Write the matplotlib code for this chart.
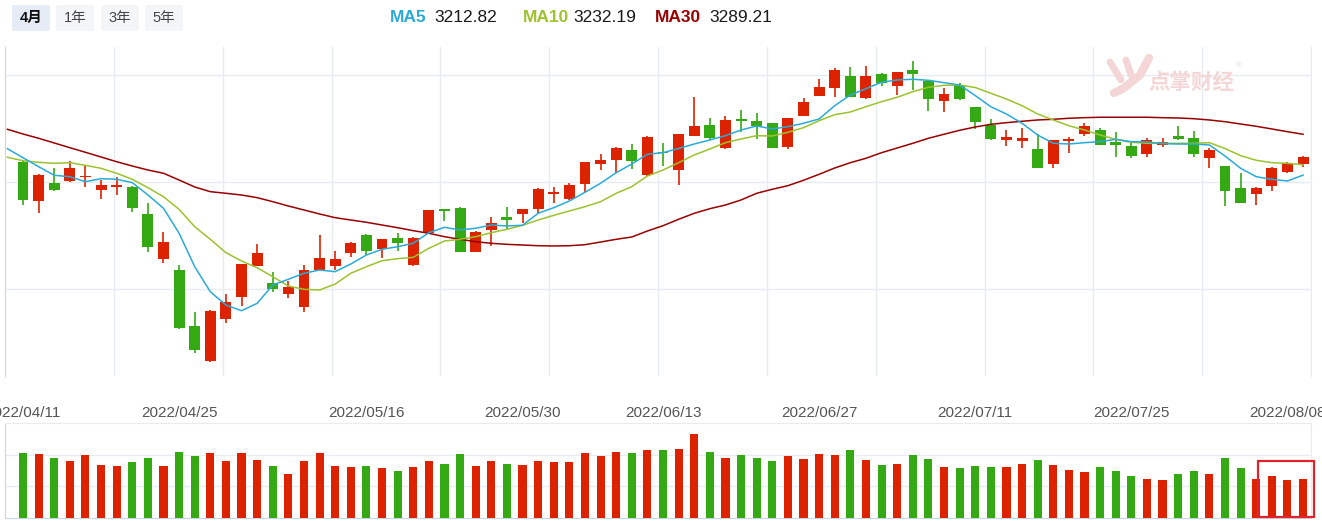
import numpy as np
import matplotlib
matplotlib.use("Agg")
import matplotlib.pyplot as plt
from matplotlib.patches import FancyBboxPatch, Rectangle
from matplotlib.lines import Line2D

plt.rcParams['font.family'] = ['Liberation Sans', 'Noto Sans CJK SC']

# 上证指数 2022/04/11 - 2022/08/09 日K
open_ = [3238, 3164.5, 3198.7, 3201.9, 3209, 3184.5, 3191, 3190.7, 3139.6, 3056,
         3035.5, 2930.9, 2866, 2944.6, 2985, 3043.6, 3011.3, 2990, 2965.8, 3035.5,
         3043, 3068, 3101, 3074.8, 3096, 3045, 3105.3, 3149.6, 3151, 3069.7,
         3110, 3134, 3139.6, 3149, 3177.6, 3168, 3196, 3233.7, 3242, 3260,
         3213, 3256, 3222.5, 3286.6, 3306.5, 3264, 3316, 3314, 3309.7, 3266,
         3323.4, 3361.4, 3375, 3398, 3356.5, 3402, 3379.4, 3409.3, 3389.3, 3352,
         3381.3, 3340.7, 3306.5, 3279, 3276.6, 3262.3, 3233.7, 3276.6, 3289, 3297,
         3275, 3268, 3251.8, 3269, 3286, 3281.7, 3244.3, 3230, 3188, 3177.6,
         3193, 3218, 3233.7]
high = [3240, 3215, 3225.6, 3240, 3230, 3203.8, 3209, 3193, 3161, 3106,
        3045, 2956.5, 2961, 2990.7, 3047.5, 3083.6, 3032, 3015, 3045, 3101,
        3071, 3088, 3103, 3094, 3105, 3097, 3148, 3150, 3153, 3107.5,
        3134, 3153, 3150, 3188, 3191, 3198, 3238, 3252, 3266, 3271,
        3285.3, 3273.5, 3289.5, 3358, 3320, 3323, 3334.6, 3329.5, 3310.5, 3320.5,
        3356.5, 3392.5, 3412.5, 3414.4, 3417, 3403, 3405.5, 3425.6, 3389.5, 3375,
        3384.5, 3341, 3317.7, 3297, 3300, 3289, 3279, 3283.6, 3309.7, 3300.4,
        3294, 3272.3, 3281.7, 3281.7, 3304.7, 3296, 3264.3, 3230.5, 3217.4, 3191,
        3228.6, 3236.5, 3248.6]
low = [3157, 3142, 3184, 3199.5, 3191, 3168, 3175, 3143.5, 3069, 3048.6,
       2926, 2880, 2864, 2937, 2969, 3043, 2994, 2983.8, 2957.6, 3035,
       3035.5, 3060, 3063.6, 3058.5, 3071.6, 3043, 3105, 3128, 3069, 3069.5,
       3081, 3112, 3122.8, 3141.5, 3161, 3167, 3182, 3222, 3216, 3225,
       3212, 3229, 3194, 3286, 3278.5, 3262, 3294, 3280, 3263.5, 3262,
       3323, 3361, 3359.4, 3359, 3356, 3379.4, 3362.6, 3372, 3333.3, 3331.4,
       3354, 3298.5, 3278.5, 3267, 3263, 3226.5, 3226.8, 3254.8, 3286.6, 3268.5,
       3247.3, 3244.3, 3247.3, 3266, 3278.5, 3247.3, 3226.8, 3155, 3160, 3157,
       3184, 3216, 3228.6]
close = [3166, 3213, 3184.5, 3225.6, 3211, 3194.4, 3195, 3150.9, 3078.6, 3088.4,
         2926.6, 2886, 2959.5, 2975.3, 3046.7, 3067, 3000.6, 3004, 3035.5, 3058,
         3056, 3085.4, 3071.6, 3093.5, 3085.4, 3096, 3147.7, 3146.5, 3069.7, 3107,
         3122.8, 3128.4, 3149.6, 3186.4, 3180.8, 3194.4, 3237.4, 3241, 3264, 3239.5,
         3284.7, 3254.5, 3289, 3304.7, 3283, 3316, 3315, 3304.7, 3264, 3320,
         3349, 3378, 3409, 3359.4, 3398, 3385.6, 3405, 3401.9, 3354.6, 3364.5,
         3354.6, 3312.7, 3280.4, 3284, 3282.2, 3226.8, 3278.5, 3280.4, 3305, 3269,
         3269, 3249, 3278.5, 3275.5, 3280.4, 3251.8, 3260, 3184, 3161.3, 3188,
         3225.6, 3236, 3246]
volume = [197, 194, 182, 172, 190, 161, 157, 169, 182, 157,
          200, 186, 197, 172, 197, 175, 157, 132, 172, 197,
          157, 154, 157, 150, 143, 154, 172, 164, 193, 157,
          172, 164, 161, 172, 168, 168, 197, 186, 200, 197,
          204, 204, 208, 254, 200, 182, 190, 182, 172, 186,
          179, 193, 190, 204, 175, 161, 164, 190, 179, 154,
          150, 157, 154, 154, 164, 175, 161, 146, 139, 154,
          140, 125, 118, 114, 132, 140, 132, 182, 150, 118,
          125, 114, 118]

# 均线（从第一根K线前一天开始）
ma5 = [3262.2, 3245.4, 3228.6, 3212.5, 3209.9, 3200.6, 3206.2, 3205.1, 3198.8, 3175.8,
       3150.9, 3104.1, 3041.7, 2994.9, 2970.1, 2959.4, 2973.2, 3007.5, 3018.2, 3029.4,
       3035.5, 3032.4, 3046.8, 3063.6, 3074.2, 3079.1, 3085.4, 3105.2, 3115.3, 3110.3,
       3113.5, 3119.6, 3117.8, 3119.1, 3141.5, 3152.0, 3164.5, 3180.7, 3197.6, 3217.4,
       3233.6, 3251.8, 3254.8, 3262.6, 3271.0, 3278.5, 3286.5, 3297.2, 3304.7, 3299.1,
       3303.4, 3309.7, 3317.8, 3342.6, 3362.6, 3374.4, 3386.4, 3390.7, 3392.0, 3390.1,
       3385.6, 3381.3, 3361.5, 3340.7, 3327.1, 3309.7, 3287.8, 3272.3, 3271.0, 3273.5,
       3275.3, 3279.8, 3275.3, 3274.8, 3271.6, 3271.0, 3271.0, 3269.2, 3248.6, 3225.6,
       3209.9, 3205.0, 3201.9, 3212.8]
ma10 = [3246.2, 3239.8, 3236.8, 3234.9, 3236.1, 3231.2, 3225.6, 3216.3, 3205.1, 3189.4,
        3172.5, 3148.9, 3116.4, 3092.9, 3067.9, 3052.3, 3039.8, 3023.0, 3005.6, 2999.4,
        2998.1, 3009.3, 3029.4, 3041.7, 3052.9, 3056.7, 3059.2, 3076.1, 3089.7, 3092.9,
        3097.8, 3105.2, 3111.6, 3119.1, 3128.9, 3137.7, 3145.8, 3153.8, 3163.2, 3178.9,
        3191.3, 3211.2, 3222.4, 3236.1, 3250.5, 3261.7, 3273.5, 3280.4, 3286.5, 3286.0,
        3292.9, 3301.5, 3314.6, 3325.8, 3330.8, 3340.7, 3350.1, 3358.3, 3368.8, 3377.0,
        3380.7, 3381.3, 3376.6, 3365.8, 3355.1, 3342.6, 3327.1, 3315.9, 3305.2, 3297.2,
        3287.8, 3279.8, 3274.2, 3272.3, 3272.3, 3272.3, 3272.3, 3273.5, 3262.6, 3249.2,
        3240.6, 3236.1, 3234.9, 3232.2]
ma30 = [3298.5, 3289.7, 3281.7, 3272.9, 3264.1, 3255.5, 3246.7, 3237.9, 3229.9, 3222.4,
        3216.3, 3203.7, 3190.7, 3181.9, 3178.9, 3175.7, 3170.7, 3163.2, 3155.1, 3147.7,
        3140.2, 3133.3, 3128.9, 3124.7, 3119.6, 3114.6, 3109.0, 3104.1, 3097.8, 3092.9,
        3088.4, 3085.4, 3083.5, 3082.2, 3080.9, 3080.4, 3080.9, 3082.8, 3087.8, 3092.9,
        3097.2, 3108.4, 3118.3, 3130.3, 3141.5, 3150.1, 3157.0, 3166.4, 3178.9, 3186.4,
        3193.1, 3203.2, 3214.4, 3226.2, 3236.1, 3244.3, 3254.8, 3263.5, 3272.3, 3281.7,
        3289.2, 3296.6, 3302.8, 3307.8, 3310.9, 3313.5, 3315.9, 3317.2, 3319.1, 3320.2,
        3321.0, 3321.0, 3321.0, 3321.0, 3320.2, 3319.6, 3318.3, 3315.9, 3312.7, 3308.4,
        3304.1, 3299.1, 3294.0, 3289.2]

tick_idx = [0, 10, 22, 32, 41, 51, 61, 71, 81]
tick_labels = ['2022/04/11', '2022/04/25', '2022/05/16', '2022/05/30', '2022/06/13',
               '2022/06/27', '2022/07/11', '2022/07/25', '2022/08/08']
periods = ['4月', '1年', '3年', '5年']
ma_names = ['MA5', 'MA10', 'MA30']
ma_last = ['3212.82', '3232.19', '3289.21']

RED = '#dd2200'
GREEN = '#35a914'
MA_COLORS = ['#2aaad8', '#9cc22c', '#990000']
GRID = '#e7ecf2'
AXIS = '#c9d6ea'

W, H = 1322, 521
fig = plt.figure(figsize=(W / 100, H / 100), dpi=100)


def fx(x):
    return x / W


def fy(y):
    return 1 - y / H


ax = fig.add_axes([fx(5), fy(376), fx(1311) - fx(5), fy(47) - fy(376)])
axv = fig.add_axes([fx(5), fy(518), fx(1311) - fx(5), fy(423) - fy(518)])

n = len(close)
x = np.arange(n)
o = np.array(open_)
c = np.array(close)
up = c >= o
colors = np.where(up, RED, GREEN)

xlo, xhi = -1.153, 82.51

# K线
ax.vlines(x, low, high, colors=colors, lw=1.2, zorder=3)
body_h = np.abs(c - o)
min_h = 3.0
body_lo = np.minimum(o, c) - np.clip(min_h - body_h, 0, None) / 2
body_h = np.maximum(body_h, min_h)
ax.bar(x, body_h, bottom=body_lo, width=0.7, color=colors, lw=0, zorder=4)

xm = np.arange(-1, n)
for vals, col in zip([ma30, ma10, ma5], MA_COLORS[::-1]):
    ax.plot(xm, vals, color=col, lw=1.1, zorder=5)

ax.set_xlim(xlo, xhi)
ax.set_ylim(2837.4, 3452.3)
ax.set_yticks([3000, 3200, 3400])
ax.set_xticks(np.linspace(xlo, xhi, 13)[1:])
ax.tick_params(length=0, labelleft=False, labelbottom=False)
ax.grid(True, color=GRID, lw=1)
ax.set_axisbelow(True)
for s in ['top', 'bottom']:
    ax.spines[s].set_visible(False)
ax.spines['right'].set_color(GRID)
ax.spines['left'].set_color(AXIS)

# 成交量
axv.bar(x, volume, width=0.52, color=colors, lw=0, zorder=3)
axv.set_xlim(xlo, xhi)
axv.set_ylim(0, 286)
axv.set_yticks([95, 191])
axv.grid(True, axis='y', color=GRID, lw=1)
axv.set_axisbelow(True)
axv.set_xticks(tick_idx)
axv.set_xticklabels(tick_labels, fontsize=11, color='#555555')
axv.xaxis.tick_top()
axv.tick_params(length=0, labelleft=False, pad=2.5)
axv.spines['left'].set_color(AXIS)
axv.spines['bottom'].set_color(AXIS)
axv.spines['top'].set_color(GRID)
axv.spines['right'].set_color(GRID)
axv.add_patch(Rectangle((n - 3.9, 2), 3.6, 169, fill=False, edgecolor='#e0242c',
                        lw=1.6, zorder=6, clip_on=False))

# 周期按钮
btn_x = [12, 56, 101, 145]
for i, (lab, bx) in enumerate(zip(periods, btn_x)):
    sel = i == 0
    fig.patches.append(FancyBboxPatch((fx(bx), fy(31)), fx(38), fy(5) - fy(31),
                                      boxstyle='round,pad=0,rounding_size=0.003',
                                      transform=fig.transFigure,
                                      facecolor='#e6ecf6' if sel else '#f4f5f7',
                                      edgecolor='none'))
    fig.text(fx(bx + 19), fy(18), lab, ha='center', va='center', fontsize=10.5,
             color='#111111' if sel else '#444444',
             fontweight='bold' if sel else 'normal')

# 均线图例
leg_x = [390, 523, 655]
val_x = [434, 573, 709]
for name, val, col, lx, vx in zip(ma_names, ma_last, MA_COLORS, leg_x, val_x):
    fig.text(fx(lx), fy(17), name, ha='left', va='center', fontsize=12.5,
             fontweight='bold', color=col)
    fig.text(fx(vx), fy(17), val, ha='left', va='center', fontsize=12.5,
             color='#1a1a1a')

# 水印
wm = '#f4d6d6'
for xs, ys, lw in [([1110, 1121], [62, 80], 5), ([1126, 1131], [60, 75], 5),
                   ([1149, 1140, 1124, 1114], [58, 75, 88, 93], 6)]:
    fig.add_artist(Line2D([fx(v) for v in xs], [fy(v) for v in ys], color=wm, lw=lw,
                          solid_capstyle='round', transform=fig.transFigure))
fig.text(fx(1191), fy(82), '点掌财经', ha='center', va='center', fontsize=15.5,
         fontweight='bold', color=wm, family=['Noto Sans CJK SC'])
fig.text(fx(1239), fy(66), '®', ha='center', va='center', fontsize=6, color=wm)

fig.savefig('out.png', dpi=100)
